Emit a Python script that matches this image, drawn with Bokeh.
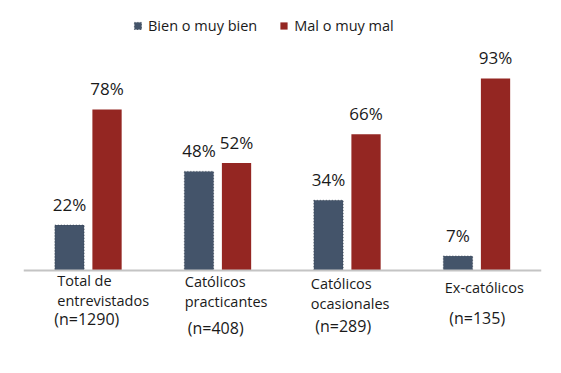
from bokeh.plotting import figure
from bokeh.models import ColumnDataSource, FactorRange, Range1d, Span, Legend, LegendItem
from bokeh.transform import dodge
from bokeh.core.properties import value
from bokeh.embed import file_html
from bokeh.resources import INLINE

# ---- data ----
categories = ["Total de\nentrevistados", "Católicos\npracticantes", "Católicos\nocasionales", "Ex-católicos"]
sample_sizes = [1290, 408, 289, 135]
series_names = ["Bien o muy bien", "Mal o muy mal"]
bien = [22, 48, 34, 7]
mal = [78, 52, 66, 93]

# ---- styles / label placement (screen px) ----
colors = ["#44546A", "#942622"]
FONT = "Open Sans"
name_dx = [-31, -33, -36.5, -32]
name_dy = [9.5, 10.5, 12.5, 17]
n_dx = [-34, -30, -32, -27.5]
n_dy = [48.5, 57.5, 55, 47]
line_gap = 20
value_dy = -21

px_per_unit = 2.065
frame_h = 357
base_from_top = 262

keys = [c.replace("\n", " ") for c in categories]

src = ColumnDataSource(dict(
    cat=keys,
    bien=bien,
    mal=mal,
    bien_lbl=[f"{v}%" for v in bien],
    mal_lbl=[f"{v}%" for v in mal],
))

p = figure(
    x_range=FactorRange(factors=keys, range_padding=0),
    y_range=Range1d(-(frame_h - base_from_top) / px_per_unit, base_from_top / px_per_unit),
    frame_width=518, frame_height=frame_h,
    min_border_left=23, min_border_right=12, min_border_top=8, min_border_bottom=0,
    x_axis_location=None, y_axis_location=None,
    toolbar_location=None, output_backend="svg",
    background_fill_color="white", border_fill_color="white",
)
p.grid.visible = False
p.outline_line_color = None

off = 0.145
w = 0.226
r1 = p.vbar(x=dodge("cat", -off, range=p.x_range), top="bien", width=w, source=src,
            fill_color=colors[0], line_color="#2f3a4a", line_alpha=0.7, line_dash="1 2", line_width=1)
r2 = p.vbar(x=dodge("cat", off, range=p.x_range), top="mal", width=w, source=src,
            fill_color=colors[1], line_color=None)

# axis baseline
p.add_layout(Span(location=0, dimension="width", line_color="#c4c4c4", line_width=2))

# value labels
for col, lbl, dx in (("bien", "bien_lbl", -off), ("mal", "mal_lbl", off)):
    p.text(x=dodge("cat", dx, range=p.x_range), y=col, text=lbl, source=src,
           text_align="center", text_baseline="middle", y_offset=value_dy,
           text_font=value(FONT), text_font_size="17px", text_color="#1a1a1a")

# category labels (left aligned, line by line)
lines_x, lines_y_off, lines_x_off, lines_txt = [], [], [], []
for i, c in enumerate(categories):
    for j, part in enumerate(c.split("\n")):
        lines_x.append(keys[i])
        lines_txt.append(part)
        lines_x_off.append(name_dx[i])
        lines_y_off.append(name_dy[i] + j * line_gap)
p.text(x=lines_x, y=[0] * len(lines_x), text=lines_txt, x_offset=lines_x_off, y_offset=lines_y_off,
       text_align="left", text_baseline="middle",
       text_font=value(FONT), text_font_size="14.5px", text_color="#1a1a1a")

p.text(x=keys, y=[0] * len(keys), text=[f"(n={n})" for n in sample_sizes],
       x_offset=n_dx, y_offset=n_dy, text_align="left", text_baseline="middle",
       text_font=value(FONT), text_font_size="16px", text_color="#1a1a1a")

legend = Legend(items=[LegendItem(label=series_names[0], renderers=[r1]),
                       LegendItem(label=series_names[1], renderers=[r2])],
                orientation="horizontal", location=(110, 330))
legend.glyph_width = 9
legend.glyph_height = 9
legend.label_standoff = 6
legend.spacing = 22
legend.padding = 0
legend.margin = 0
legend.border_line_color = None
legend.background_fill_alpha = 0
legend.label_text_font = FONT
legend.label_text_font_size = "14.5px"
legend.label_text_color = "#1a1a1a"
legend.label_height = 20
p.add_layout(legend, "center")

open("out.html", "w").write(file_html(p, INLINE))
